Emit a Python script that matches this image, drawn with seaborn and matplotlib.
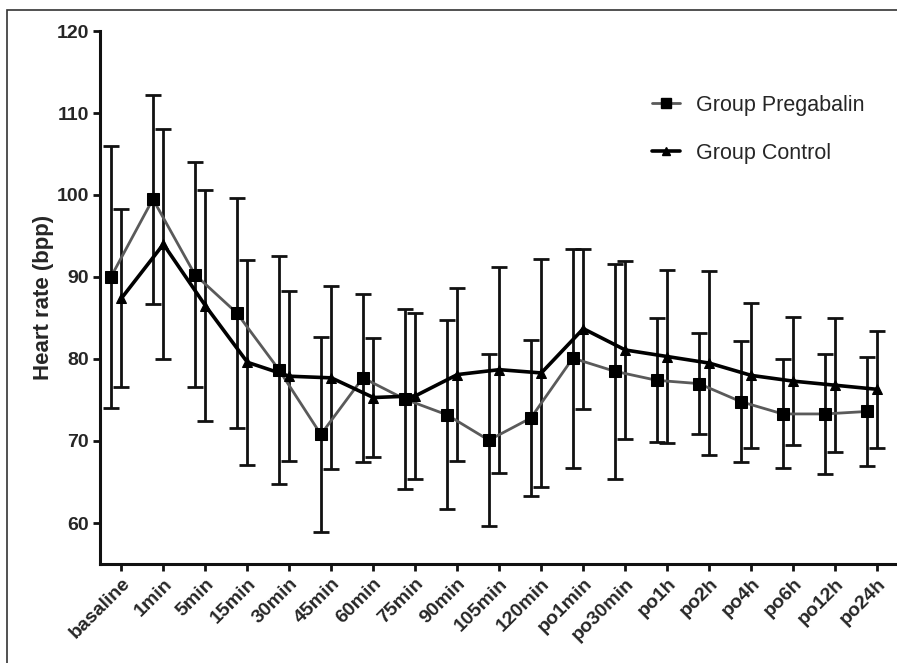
import numpy as np
import pandas as pd
import matplotlib
matplotlib.use("Agg")
import matplotlib.pyplot as plt
import seaborn as sns
from matplotlib.lines import Line2D
from matplotlib.patches import Rectangle

categories = ["basaline", "1min", "5min", "15min", "30min", "45min", "60min", "75min",
              "90min", "105min", "120min", "po1min", "po30min", "po1h", "po2h", "po4h",
              "po6h", "po12h", "po24h"]

preg_mean = [90.0, 99.5, 90.3, 85.6, 78.7, 70.8, 77.7, 75.1, 73.2, 70.1, 72.8, 80.1,
             78.5, 77.4, 77.0, 74.8, 73.3, 73.3, 73.6]
preg_sd = [16.0, 12.75, 13.75, 14.0, 13.9, 11.9, 10.25, 11.0, 11.55, 10.45, 9.55, 13.35,
           13.1, 7.55, 6.2, 7.35, 6.65, 7.3, 6.7]

ctrl_mean = [87.4, 94.0, 86.5, 79.6, 77.9, 77.7, 75.3, 75.5, 78.1, 78.7, 78.3, 83.7,
             81.1, 80.3, 79.5, 78.0, 77.3, 76.8, 76.3]
ctrl_sd = [10.85, 14.05, 14.1, 12.5, 10.4, 11.15, 7.2, 10.1, 10.5, 12.55, 13.9, 9.75,
           10.9, 10.5, 11.2, 8.85, 7.8, 8.15, 7.15]

yticks = [60, 70, 80, 90, 100, 110, 120]

sns.set_style("ticks")
plt.rcParams['font.family'] = ['Liberation Sans', 'DejaVu Sans']

fig = plt.figure(figsize=(8.97, 6.63), dpi=100)
ax = fig.add_axes([100 / 897, 1 - 564 / 663, 1 - 100 / 897, (564 - 31) / 663])

pos = np.arange(len(categories))
dodge = 0.25
df_p = pd.DataFrame({"x": pos - dodge, "y": preg_mean})
df_c = pd.DataFrame({"x": pos + 0.0, "y": ctrl_mean})

ax.errorbar(df_p["x"], df_p["y"], yerr=preg_sd, fmt="none", ecolor="#111111",
            elinewidth=2.0, capsize=6, capthick=2.0, zorder=2)
ax.errorbar(df_c["x"], df_c["y"], yerr=ctrl_sd, fmt="none", ecolor="#111111",
            elinewidth=2.0, capsize=6, capthick=2.0, zorder=2)

sns.lineplot(data=df_p, x="x", y="y", ax=ax, color="#5a5a5a", linewidth=2.0,
             marker="s", markersize=9, markerfacecolor="black", markeredgecolor="black",
             zorder=3)
sns.lineplot(data=df_c, x="x", y="y", ax=ax, color="black", linewidth=2.6,
             marker="^", markersize=7, markerfacecolor="black", markeredgecolor="black",
             zorder=4)

ax.set_xlim(-0.51, 18.47)
ax.set_ylim(55, 120)
ax.set_yticks(yticks)
ax.set_yticklabels([str(t) for t in yticks], fontsize=14, fontweight="bold")
ax.set_xticks(pos)
ax.set_xticklabels(categories, rotation=45, ha="right", rotation_mode="anchor",
                   fontsize=14, fontweight="bold")
ax.set_xlabel("")
ax.set_ylabel("Heart rate (bpp)", fontsize=16, fontweight="bold", labelpad=2)

for s in ["top", "right"]:
    ax.spines[s].set_visible(False)
for s in ["left", "bottom"]:
    ax.spines[s].set_linewidth(2.2)
    ax.spines[s].set_color("#111111")
ax.tick_params(axis="both", direction="out", length=5, width=2, color="#111111", pad=3)

handles = [
    Line2D([0], [0], color="#5a5a5a", linewidth=2.0, marker="s", markersize=7,
           markerfacecolor="black", markeredgecolor="black"),
    Line2D([0], [0], color="black", linewidth=2.6, marker="^", markersize=6,
           markerfacecolor="black", markeredgecolor="black"),
]
leg = ax.legend(handles, ["Group Pregabalin", "Group Control"], frameon=False,
                loc="upper left", bbox_to_anchor=((652 - 100) / 797, 1 - (95 - 31) / 533),
                borderaxespad=0, borderpad=0,
                prop={"family": "Liberation Sans", "size": 15.5},
                handlelength=1.3, handletextpad=0.75, labelspacing=1.25)

fig.add_artist(Rectangle((7 / 897, -0.1), 1.2, 1 - 10 / 663 + 0.1, transform=fig.transFigure,
                         fill=False, edgecolor="#333333", linewidth=1.2))

fig.savefig("out.png", dpi=100, facecolor="white")
